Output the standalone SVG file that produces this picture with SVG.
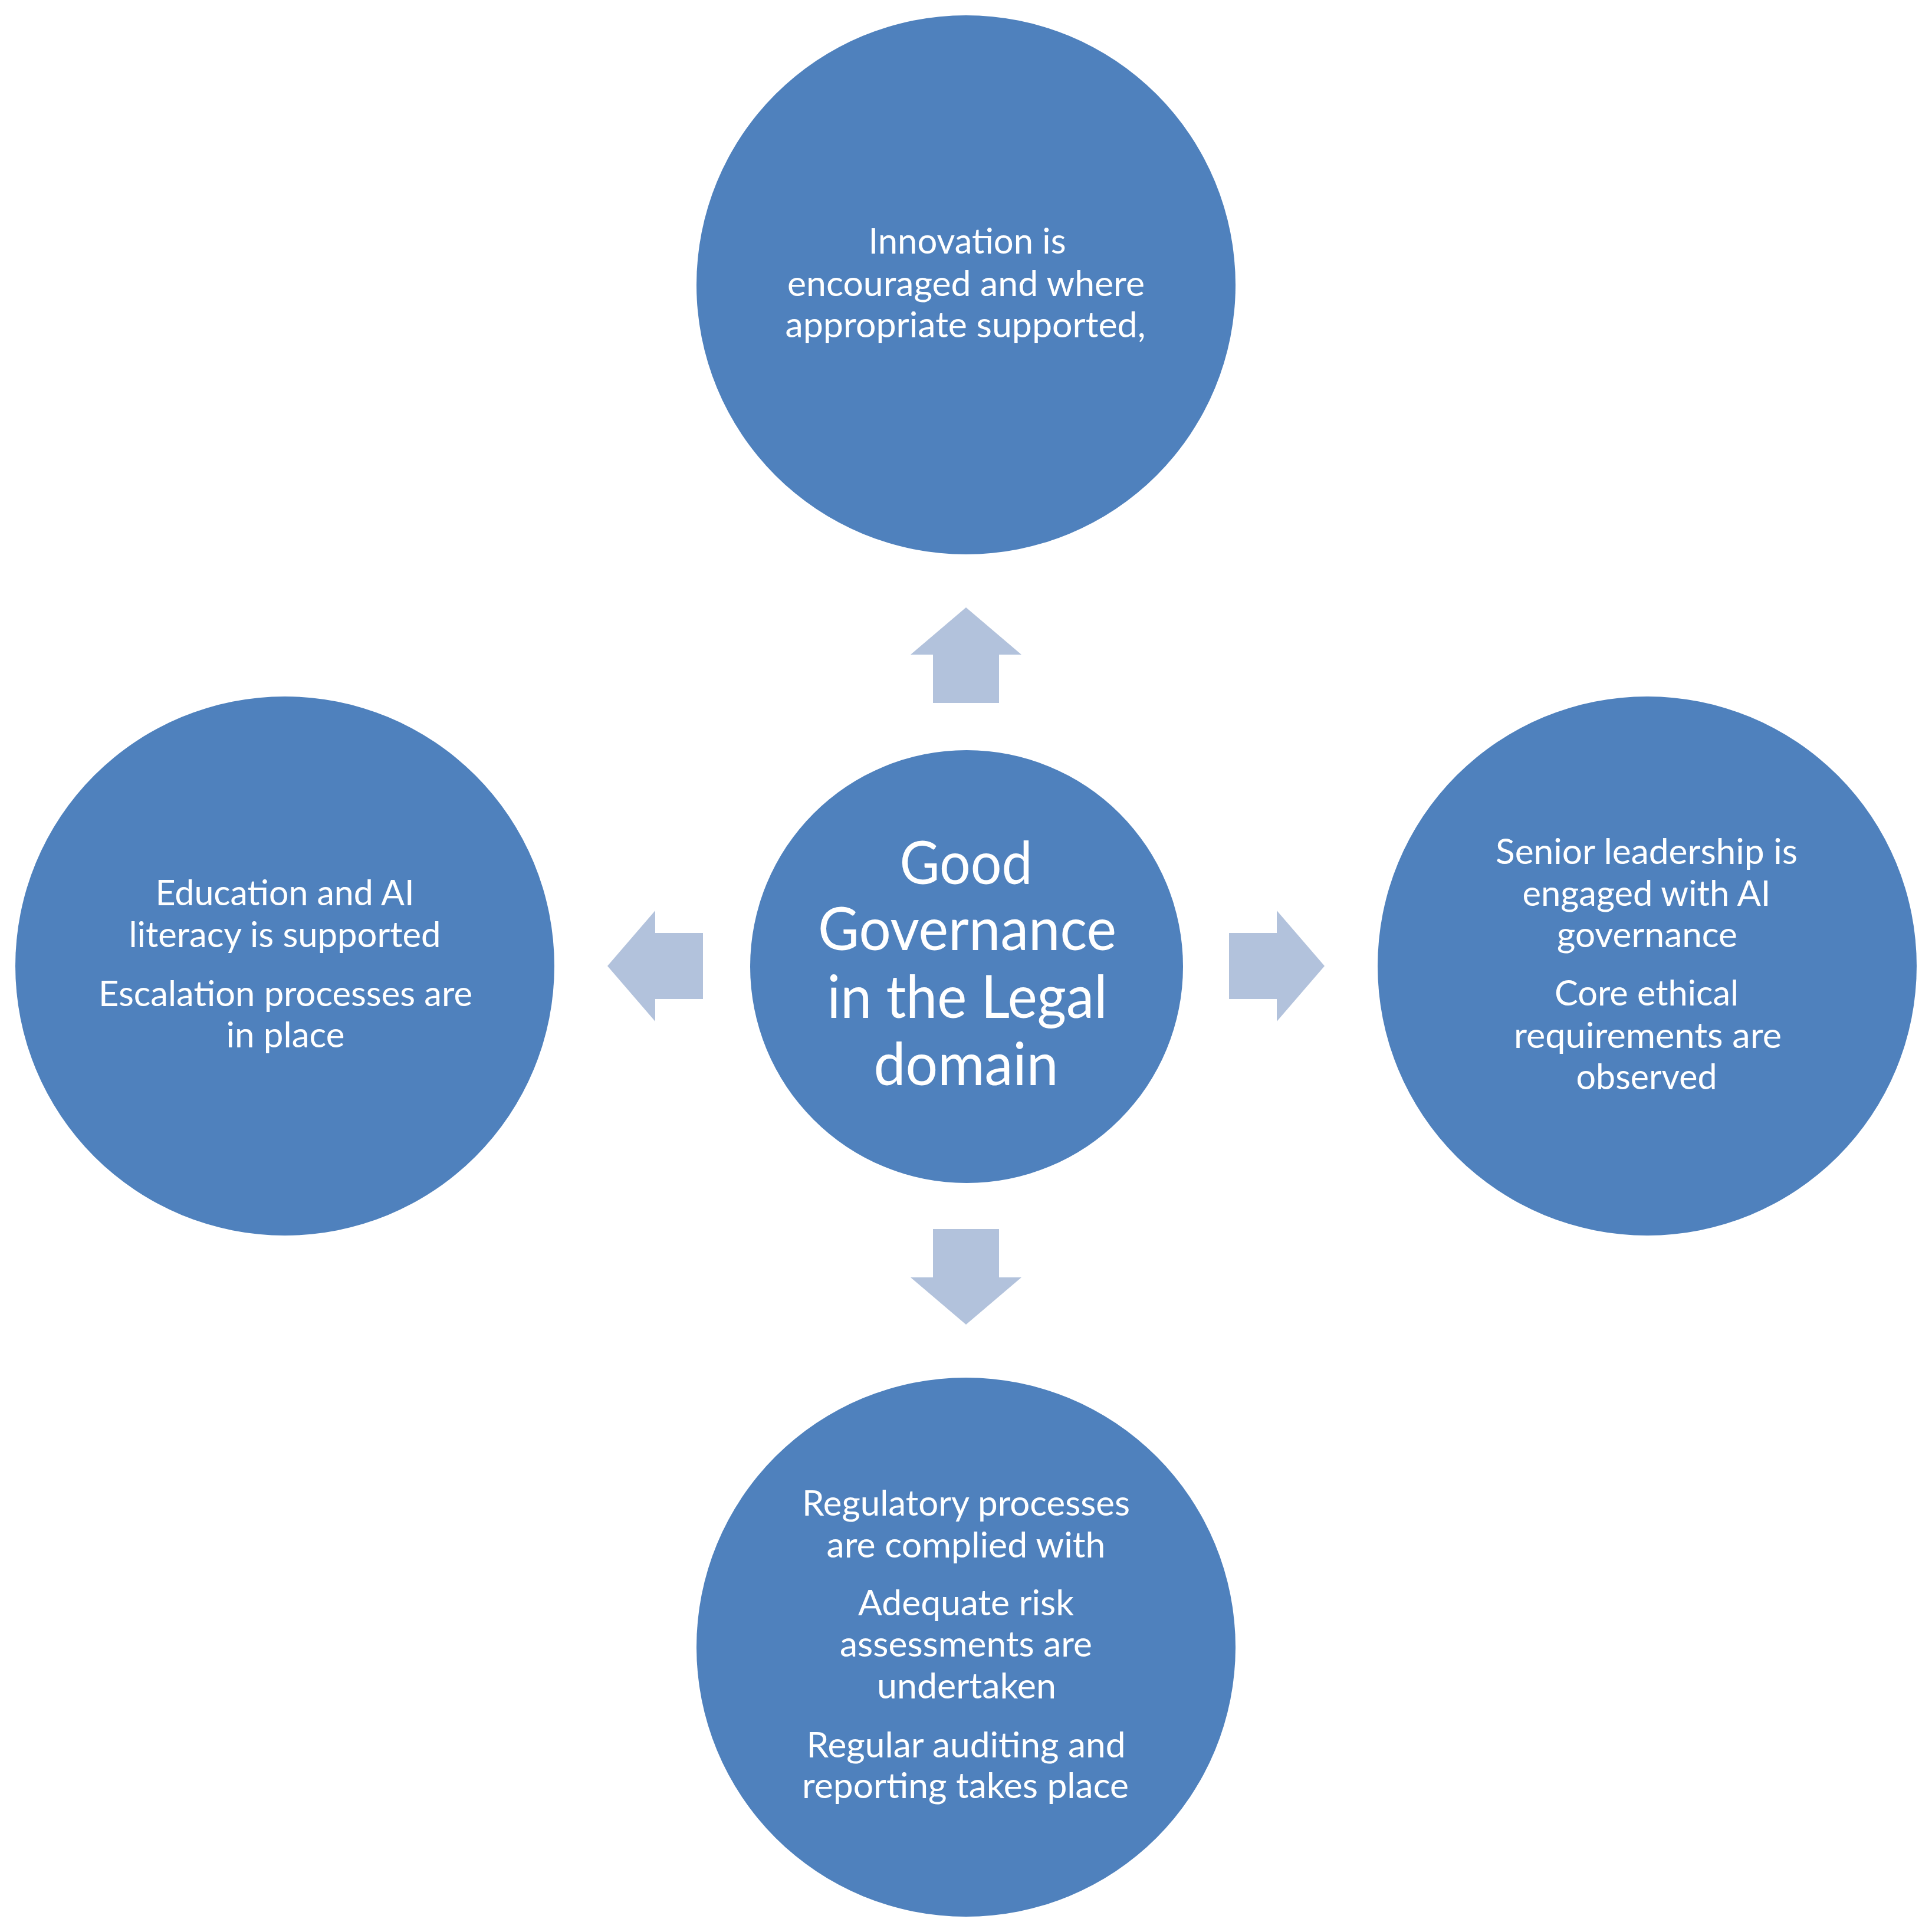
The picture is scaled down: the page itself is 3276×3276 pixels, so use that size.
<svg xmlns="http://www.w3.org/2000/svg" width="3276" height="3276" viewBox="0 0 3276 3276">
<style>
.node{fill:#4F81BD;}
.arr{fill:#B2C2DC;}
text{fill:#FFFFFF;font-family:Lato,"Open Sans","Liberation Sans",sans-serif;text-anchor:middle;}
.s{font-size:60px;}
.c{font-size:100px;}
</style>
<rect width="3276" height="3276" fill="#FFFFFF"/>
<g id="connectors">
<polygon class="arr" points="1638,1030 1732,1110 1694,1110 1694,1192 1582,1192 1582,1110 1544,1110"/>
<polygon class="arr" points="1638,2246 1732,2166 1694,2166 1694,2084 1582,2084 1582,2166 1544,2166"/>
<polygon class="arr" points="1030,1638 1111,1544 1111,1582 1192,1582 1192,1694 1111,1694 1111,1732"/>
<polygon class="arr" points="2246,1638 2165,1544 2165,1582 2084,1582 2084,1694 2165,1694 2165,1732"/>
</g>
<g id="center">
<circle class="node" cx="1639" cy="1639" r="367"/>
<text class="c" x="1638" y="1499" textLength="225" lengthAdjust="spacingAndGlyphs">Good</text>
<text class="c" x="1640" y="1611" textLength="506" lengthAdjust="spacingAndGlyphs">Governance</text>
<text class="c" x="1640" y="1726" textLength="475" lengthAdjust="spacingAndGlyphs">in the Legal</text>
<text class="c" x="1638" y="1840" textLength="313" lengthAdjust="spacingAndGlyphs">domain</text>
</g>
<g id="top">
<circle class="node" cx="1638" cy="483" r="457"/>
<text class="s" x="1640" y="430" textLength="335" lengthAdjust="spacingAndGlyphs">Innovation is</text>
<text class="s" x="1638" y="502" textLength="606" lengthAdjust="spacingAndGlyphs">encouraged and where</text>
<text class="s" x="1637" y="572" textLength="611" lengthAdjust="spacingAndGlyphs">appropriate supported,</text>
</g>
<g id="left">
<circle class="node" cx="483" cy="1638" r="457"/>
<text class="s" x="483" y="1535" textLength="439" lengthAdjust="spacingAndGlyphs">Education and AI</text>
<text class="s" x="483" y="1606" textLength="529" lengthAdjust="spacingAndGlyphs">literacy is supported</text>
<text class="s" x="484" y="1706" textLength="634" lengthAdjust="spacingAndGlyphs">Escalation processes are</text>
<text class="s" x="484" y="1776" textLength="201" lengthAdjust="spacingAndGlyphs">in place</text>
</g>
<g id="right">
<circle class="node" cx="2793" cy="1638" r="457"/>
<text class="s" x="2792" y="1465" textLength="512" lengthAdjust="spacingAndGlyphs">Senior leadership is</text>
<text class="s" x="2792" y="1536" textLength="421" lengthAdjust="spacingAndGlyphs">engaged with AI</text>
<text class="s" x="2793" y="1606" textLength="306" lengthAdjust="spacingAndGlyphs">governance</text>
<text class="s" x="2792" y="1705" textLength="312" lengthAdjust="spacingAndGlyphs">Core ethical</text>
<text class="s" x="2794" y="1777" textLength="454" lengthAdjust="spacingAndGlyphs">requirements are</text>
<text class="s" x="2792" y="1847" textLength="239" lengthAdjust="spacingAndGlyphs">observed</text>
</g>
<g id="bottom">
<circle class="node" cx="1638" cy="2793" r="457"/>
<text class="s" x="1638" y="2570" textLength="556" lengthAdjust="spacingAndGlyphs">Regulatory processes</text>
<text class="s" x="1638" y="2641" textLength="473" lengthAdjust="spacingAndGlyphs">are complied with</text>
<text class="s" x="1638" y="2739" textLength="366" lengthAdjust="spacingAndGlyphs">Adequate risk</text>
<text class="s" x="1638" y="2809" textLength="428" lengthAdjust="spacingAndGlyphs">assessments are</text>
<text class="s" x="1639" y="2880" textLength="304" lengthAdjust="spacingAndGlyphs">undertaken</text>
<text class="s" x="1638" y="2980" textLength="541" lengthAdjust="spacingAndGlyphs">Regular auditing and</text>
<text class="s" x="1637" y="3049" textLength="554" lengthAdjust="spacingAndGlyphs">reporting takes place</text>
</g>
</svg>
